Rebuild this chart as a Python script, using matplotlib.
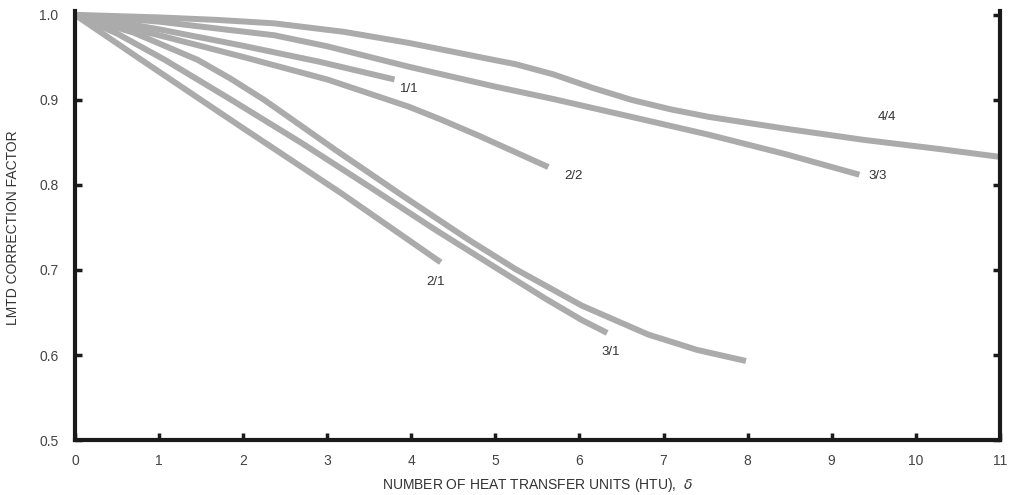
import matplotlib
matplotlib.use('Agg')
import matplotlib.pyplot as plt

plt.rcParams['font.family'] = ['Liberation Sans', 'DejaVu Sans']

# curves (HTU, correction factor)
x_11 = [0, 1.0, 1.98, 2.9, 3.8]
y_11 = [1.0, 0.983, 0.964, 0.945, 0.924]

x_22 = [0, 1.0, 1.98, 3.0, 3.97, 4.35, 4.8, 5.63]
y_22 = [1.0, 0.976, 0.951, 0.924, 0.892, 0.877, 0.858, 0.821]

x_33 = [0, 1.0, 2.37, 3.0, 3.97, 4.98, 5.69, 6.62, 7.54, 8.46, 9.33]
y_33 = [1.0, 0.992, 0.976, 0.963, 0.939, 0.916, 0.901, 0.88, 0.859, 0.836, 0.812]

x_44 = [0, 1.0, 1.7, 2.37, 3.2, 3.97, 4.98, 5.24, 5.69, 6.16, 6.62, 7.08, 7.54, 8.46, 9.38, 10.3, 11.0]
y_44 = [1.0, 0.997, 0.994, 0.99, 0.98, 0.967, 0.947, 0.942, 0.93, 0.914, 0.9, 0.889, 0.88, 0.866, 0.853, 0.842, 0.833]

x_21 = [0, 0.79, 1.98, 3.17, 4.35]
y_21 = [1.0, 0.947, 0.868, 0.79, 0.709]

x_31 = [0, 0.5, 1.07, 1.86, 2.7, 3.5, 4.29, 5.0, 5.6, 6.03, 6.33]
y_31 = [1.0, 0.978, 0.947, 0.9, 0.849, 0.798, 0.747, 0.703, 0.666, 0.641, 0.626]

x_long = [0, 0.7, 1.46, 1.85, 2.25, 3.1, 3.9, 4.69, 5.24, 6.03, 6.82, 7.4, 7.98]
y_long = [1.0, 0.979, 0.947, 0.925, 0.9, 0.841, 0.787, 0.735, 0.701, 0.658, 0.624, 0.606, 0.593]

labels = ['1/1', '2/2', '3/3', '4/4', '2/1', '3/1']
label_x = [3.97, 5.93, 9.55, 9.66, 4.29, 6.37]
label_y = [0.913, 0.81, 0.81, 0.88, 0.686, 0.604]

x_ticks = list(range(0, 12))
y_ticks = [0.5, 0.6, 0.7, 0.8, 0.9, 1.0]

fig = plt.figure(figsize=(10.14, 4.95), dpi=100)
ax = fig.add_axes([0.074, 0.111, 0.912, 0.859])

curves = [(x_11, y_11), (x_22, y_22), (x_33, y_33), (x_44, y_44),
          (x_21, y_21), (x_31, y_31), (x_long, y_long)]
for xs, ys in curves:
    ax.plot(xs, ys, color='#ababab', lw=4.3, solid_capstyle='butt',
            solid_joinstyle='round', clip_on=False, zorder=2)

for t, lx, ly in zip(labels, label_x, label_y):
    ax.text(lx, ly, t, fontsize=9.5, color='#333333', ha='center', va='center')

ax.set_xlim(0, 11)
ax.set_ylim(0.5, 1.0)
ax.set_xticks(x_ticks)
ax.set_yticks(y_ticks)
ax.set_yticklabels(['%.1f' % v for v in y_ticks])

ax.spines['top'].set_visible(False)
for s in ['left', 'bottom', 'right']:
    ax.spines[s].set_linewidth(3)
    ax.spines[s].set_color('#1a1a1a')
ax.spines['left'].set_bounds(0.5, 1.005)
ax.spines['right'].set_bounds(0.5, 1.005)

ax.tick_params(axis='both', direction='in', length=5, width=2.5,
               color='#1a1a1a', labelsize=10, labelcolor='#444444')
ax.tick_params(axis='y', pad=12, right=True)
ax.tick_params(axis='x', pad=10)

ax.set_xlabel('NUMBER OF HEAT TRANSFER UNITS (HTU),  $\\delta$', fontsize=10,
              color='#333333', labelpad=6)
ax.set_ylabel('LMTD CORRECTION FACTOR', fontsize=10, color='#333333', labelpad=14)

fig.savefig('out.png', dpi=100)
